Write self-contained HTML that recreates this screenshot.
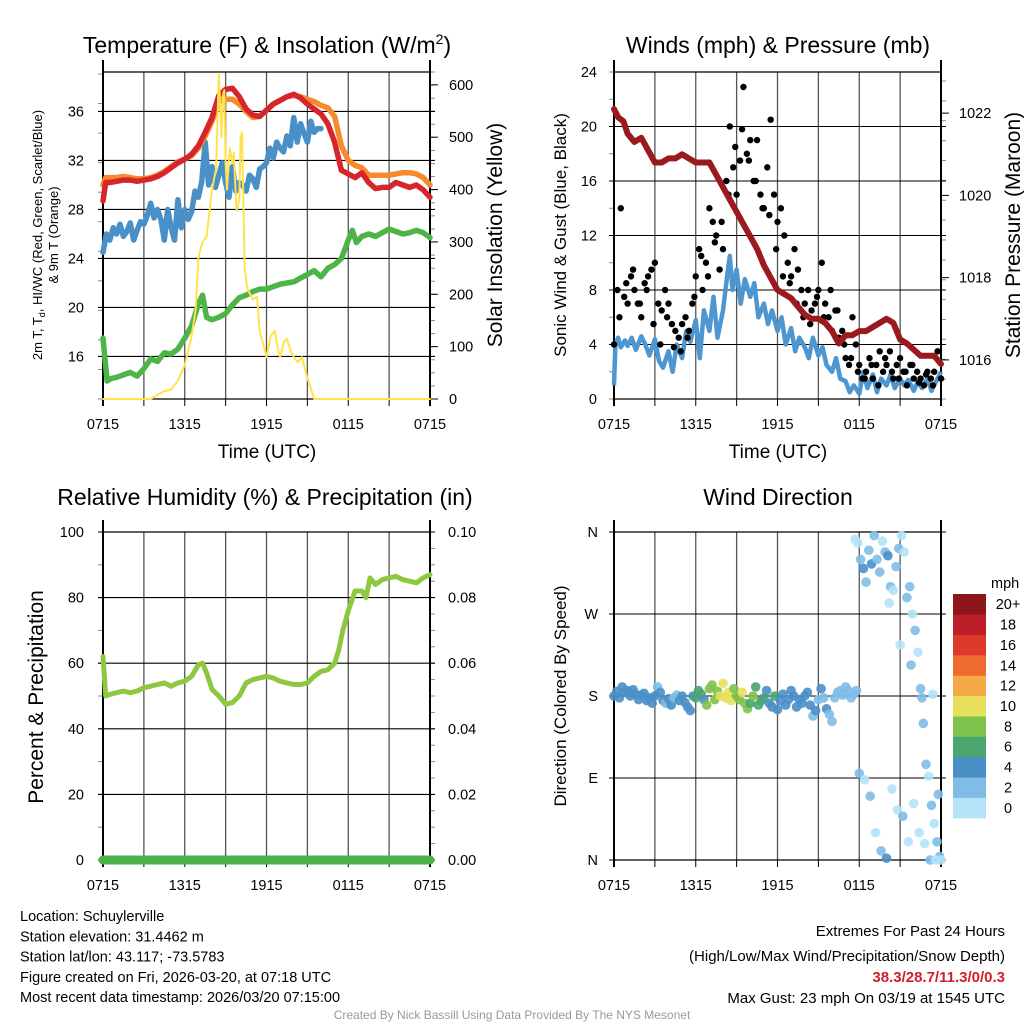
<!DOCTYPE html>
<html><head><meta charset="utf-8">
<style>
html,body{margin:0;padding:0;background:#fff;}
svg{display:block;font-family:"Liberation Sans",Arial,sans-serif;}
</style></head>
<body>
<svg id="fig" width="1024" height="1024" viewBox="0 0 1024 1024" xmlns="http://www.w3.org/2000/svg">
<rect width="1024" height="1024" fill="#fff"/>
</svg>
<script>
// ---------- DATA ----------
const timeTicks = ["0715","1315","1915","0115","0715"];
const tempT = [0,0.2,0.5,1,1.5,2,2.5,3,3.5,4,4.5,5,5.5,6,6.5,7,7.5,8,8.5,9,9.5,10,10.5,11,11.5,12,12.5,13,13.5,14,14.5,15,15.5,16,16.5,17,17.5,18,18.5,19,19.5,20,20.5,21,21.5,22,22.5,23,23.5,24];
const temp2m = [28.7,30.2,30.2,30.3,30.4,30.4,30.3,30.4,30.5,30.7,31,31.4,31.8,32.1,32.5,33.2,34.3,35.5,37.3,37.8,37.9,37.2,36.2,35.7,35.6,36.1,36.6,36.9,37.2,37.4,37.1,36.6,36.2,35.8,35,33.5,31.2,30.9,30.6,31,30.2,29.7,29.8,29.8,30.2,30,29.8,30,29.6,29];
const temp9m = [30,30.6,30.6,30.6,30.7,30.6,30.5,30.5,30.6,30.8,31.1,31.5,31.9,32.1,32.4,33,34,35.2,36.8,37,37,36.6,36,35.5,35.6,36.1,36.6,36.9,37.2,37.3,37.2,37,36.8,36.5,36.3,35.6,33.2,32,31.6,31.4,30.8,30.8,30.8,30.8,30.9,31,31,30.9,30.6,30];
const chillT = [0,0.25,0.5,0.75,1,1.25,1.5,1.75,2,2.25,2.5,2.75,3,3.25,3.5,3.75,4,4.25,4.5,4.75,5,5.25,5.5,5.75,6,6.25,6.5,6.75,7,7.25,7.5,7.75,8,8.25,8.5,8.75,9,9.25,9.5,9.75,10,10.25,10.5,10.75,11,11.25,11.5,11.75,12,12.25,12.5,12.75,13,13.25,13.5,13.75,14,14.25,14.5,14.75,15,15.25,15.5,15.75,16];
const chill = [24.5,26,25.5,26.5,26,26.8,25.8,26.2,26.9,25.5,26.3,27,26.8,27.5,28.5,27.3,28,27.2,25.5,28,26.5,25.5,28.8,26.5,28,27.2,27.8,29.5,29,30.3,33.5,30,31.5,29.8,30.8,31.8,30.2,29,31.5,29.5,30.2,30,29.5,30.8,30.5,29.8,31.3,31.5,31.8,33,32.2,33.5,33,32.7,34,33.2,35.5,33.5,35,34.2,33.5,35.2,34.3,34.6,34.6];
const dewT = [0,0.3,0.6,1,1.5,2,2.5,3,3.5,4,4.5,5,5.5,6,6.5,7,7.3,7.6,8,8.5,9,9.5,10,10.5,11,11.5,12,12.5,13,13.5,14,14.5,15,15.5,16,16.5,17,17.5,18,18.3,18.6,19,19.5,20,20.5,21,21.5,22,22.5,23,23.5,24];
const dew = [17.5,14,14.2,14.3,14.5,14.7,14.4,15,15.8,15.6,16.3,16.2,16.6,17.5,18.5,20.3,21,19.2,19,19.2,19.5,20.2,20.8,21,21.3,21.5,21.5,21.7,21.9,22,22.1,22.4,22.7,23,22.5,23.2,23.5,24,25.5,26.3,25.3,25.8,26,25.8,26.1,26.4,26.2,26,26.1,26.3,26.1,25.7];
const solarT = [0,3.5,4,4.5,5,5.5,6,6.5,6.8,7,7.3,7.6,8,8.3,8.5,8.6,8.7,8.8,8.9,9,9.1,9.3,9.5,9.6,9.8,10,10.1,10.2,10.4,10.6,11,11.3,11.5,12,12.3,12.6,12.8,13,13.3,13.5,13.8,14,14.3,14.6,15,15.5,24];
const solar = [0,0,8,15,18,35,65,120,170,270,300,310,400,440,620,560,500,580,590,450,400,480,450,470,360,380,500,510,250,210,190,195,130,80,120,130,100,80,110,115,90,80,70,80,40,0,0];
const windT = [0,0.1,0.3,0.5,0.8,1,1.3,1.6,2,2.3,2.6,3,3.3,3.6,4,4.3,4.6,5,5.3,5.6,6,6.3,6.6,7,7.3,7.6,8,8.3,8.5,8.7,9,9.3,9.6,10,10.3,10.6,11,11.3,11.6,12,12.3,12.6,13,13.3,13.6,14,14.3,14.6,15,15.3,15.6,16,16.3,16.6,17,17.3,17.6,18,18.3,18.6,19,19.3,19.6,20,20.3,20.6,21,21.3,21.6,22,22.3,22.6,23,23.3,23.6,24];
const wind = [1,4,4.5,3.8,4.3,3.9,4.5,3.6,4.6,4,3.2,4.4,2.8,2.3,3.5,2,4,3,5,4.2,5.8,3,6.5,5,7.5,4.5,6.5,9,10.5,8,9.5,7,8.8,7.5,8.5,6,7,5.5,6.5,5,6,4,5.2,3.5,4.5,3.8,3,4.5,3.2,3.8,2.5,2,3,1.5,1.3,0.5,1,0.4,2,0.8,1.8,0.5,1.5,1,1.8,0.8,1.5,1,1.4,0.6,1.3,0.8,1.5,0.6,1.2,2];
const gustT = [0,0.25,0.5,0.75,1,1.25,1.5,1.75,2,2.25,2.5,2.75,3,3.25,3.5,3.75,4,4.25,4.5,4.75,5,5.25,5.5,5.75,6,6.25,6.5,6.75,7,7.25,7.5,7.75,8,8.25,8.5,8.75,9,9.25,9.5,9.75,10,10.25,10.5,10.75,11,11.25,11.5,11.75,12,12.25,12.5,12.75,13,13.25,13.5,13.75,14,14.25,14.5,14.75,15,15.25,15.5,15.75,16,16.25,16.5,16.75,17,17.25,17.5,17.75,18,18.25,18.5,18.75,19,19.25,19.5,19.75,20,20.25,20.5,20.75,21,21.25,21.5,21.75,22,22.25,22.5,22.75,23,23.25,23.5,23.75,24];
const gust = [4,8,14,7.5,7,9,8,7,6,8.5,9,9.5,10,7,6.5,8,7,5.5,5,4.5,5.5,6,5,7,9,11,8,10,14,13,12,9.5,11,16,20,17,15,17.5,22.9,18,19,16,19,15,14,17,20.5,15,13,14,12,10,9,11,9.5,8,7,8,6.5,7,8,10,7,6,5,6.5,4.5,5,3,2.5,6,4,2.5,1.5,2,3,1.5,2.5,3.5,2,2.5,3.5,1.5,2.5,3,2,1,2.5,1.5,2,1.5,1,2,1.5,2,3.5,1.5];
const gust2T = [0.4,0.9,1.4,1.9,2.4,2.9,3.4,3.9,4.4,4.9,5.4,5.9,6.4,6.9,7.4,7.9,8.4,8.9,9.4,9.9,10.4,10.9,11.4,11.9,12.4,12.9,13.4,13.9,14.4,14.9,15.4,15.9,16.4,16.9,17.4,17.9,18.4,18.9,19.4,19.9,20.4,20.9,21.4,21.9,22.4,22.9,23.4];
const gust2 = [6,8.5,9.5,7,8,5.5,4,6,3.8,3.5,4.5,7.5,10.5,9,11.5,13,15,18.5,19.8,17.5,16,14,13.5,11,9,8.5,7,6,5.5,7.5,6,8,6.5,4,3,2,1.5,2.5,1,3,2,1.5,2,2.5,1.2,1.8,1];
const presT = [0,0.3,0.7,1,1.5,2,2.5,3,3.5,4,4.5,5,5.5,6,6.5,7,7.5,8,8.5,9,9.5,10,10.5,11,11.5,12,12.5,13,13.5,14,14.5,15,15.5,16,16.5,17,17.5,18,18.5,19,19.5,20,20.5,21,21.5,22,22.5,23,23.5,24];
const pres = [1022.1,1021.9,1021.8,1021.5,1021.3,1021.4,1021.1,1020.8,1020.8,1020.9,1020.9,1021,1020.9,1020.8,1020.8,1020.8,1020.5,1020.2,1019.9,1019.6,1019.3,1019,1018.7,1018.3,1018,1017.7,1017.6,1017.5,1017.3,1017.1,1017,1017,1016.9,1016.7,1016.4,1016.6,1016.6,1016.7,1016.7,1016.8,1016.9,1017,1016.9,1016.5,1016.4,1016.25,1016.1,1016.1,1016.1,1015.9];
const rhT = [0,0.2,0.5,1,1.5,2,2.5,3,3.5,4,4.5,5,5.5,6,6.5,7,7.3,7.6,8,8.5,9,9.5,10,10.5,11,11.5,12,12.5,13,13.5,14,14.5,15,15.5,16,16.5,17,17.3,17.6,18,18.5,19,19.3,19.6,20,20.5,21,21.5,22,22.5,23,23.5,24];
const rh = [62,50,50.5,51,51.5,51,51.5,52.5,53,53.5,54,53,54,54.5,56,59.5,60,57,52,50,47.5,48,50,54,55,55.5,56,55.5,54.5,54,53.5,53.5,54,56,57.5,58,60,64,70,76,82,82,80,86,84,85.5,86,86.5,85.5,85,84.5,86,87];
const precipT = [0,24];
const precip = [0,0];
const dirT = [0,0.2,0.4,0.6,0.8,1,1.2,1.4,1.6,1.8,2,2.2,2.4,2.6,2.8,3,3.2,3.4,3.6,3.8,4,4.2,4.4,4.6,4.8,5,5.2,5.4,5.6,5.8,6,6.2,6.4,6.6,6.8,7,7.2,7.4,7.6,7.8,8,8.2,8.4,8.6,8.8,9,9.2,9.4,9.6,9.8,10,10.2,10.4,10.6,10.8,11,11.2,11.4,11.6,11.8,12,12.2,12.4,12.6,12.8,13,13.2,13.4,13.6,13.8,14,14.2,14.4,14.6,14.8,15,15.2,15.4,15.6,15.8,16,16.2,16.4,16.6,16.8,17,17.2,17.4,17.6,17.8,17.7,17.9,18.1,18.3,18.5,18.7,18.9,19.1,19.3,19.5,19.7,19.9,20.1,20.3,20.5,20.7,20.9,21.1,21.3,21.5,21.7,21.9,22.1,22.3,22.5,22.7,22.9,23.1,23.3,23.5,23.7,23.9,18.0,18.4,18.8,19.2,19.6,20.0,20.4,20.8,21.2,21.6,22.0,22.4,22.8,23.2,23.6,24.0,20.2,21.0,21.8,22.6,23.4,23.8];
const dirD = [180,185,178,190,184,186,180,187,182,176,181,183,175,178,172,180,190,184,175,172,177,170,178,181,175,180,173,168,164,180,178,186,182,176,170,188,192,176,185,180,194,178,184,175,188,180,176,184,172,166,172,180,190,170,175,178,186,172,168,180,165,175,182,170,176,186,180,168,176,172,180,184,170,158,164,176,188,178,166,160,152,178,184,186,181,190,186,178,182,186,352,348,330,320,305,340,325,356,330,316,350,338,334,300,296,322,342,356,338,288,300,270,252,228,188,150,105,92,60,40,20,4,95,88,70,30,10,2,78,55,48,20,62,30,18,0,0,0,282,236,214,178,182,72];
const dirS = [3.5,3.8,4.2,3.6,3.9,4.1,3.7,4.4,3.5,3.9,3.8,4.2,3.6,3.3,3.1,3.7,2.8,3.6,3.2,2.9,3.8,3.5,2.6,2.4,3.7,3.3,4.2,3.8,4.3,4.6,5.5,6.5,5.8,4.5,7,7.5,8.2,8.8,8.5,9.5,10.2,9.8,10.6,9.4,8.6,8.2,7.8,9.5,8.4,7.5,6.8,7.9,6.3,5.7,6.2,5.5,4.6,4.3,4.8,5.2,4.1,3.9,4.3,3.6,4.2,3.8,4.4,3.5,3.9,3.3,4.6,3.7,3.2,2.5,3.5,2.9,3.6,2.4,3.1,2.2,2.8,2.6,2.3,1.8,1.5,2.4,1.2,1.5,1.3,1.6,0.8,0.9,1.2,3.5,1.5,1.1,3.8,1.3,1.0,1.5,0.7,1.2,4.2,1.4,0.9,1.5,1.2,0.6,0.8,1.1,1.3,0.5,1.3,0.9,1.4,1.2,1.0,0.8,1.1,0.9,1.0,1.5,1.1,0.6,1.1,0.5,1.3,4.0,0.4,0.9,1.2,0.6,0.7,0.4,0.8,1.3,0.5,0.6,0.4,0.3,1.1,1.3,0.9,1.1,0.8,3.5];
const cbLabels = ["0","2","4","6","8","10","12","14","16","18","20+"];
const cbColors = ["#b4e3f8","#80bde6","#4a8fc6","#49a66f","#7dc24b","#e7e05b","#f6aa47","#ee6b2d","#dd3a2b","#bd1e27","#8e161a"];

// ---------- HELPERS ----------
const NS = "http://www.w3.org/2000/svg";
const svg = document.getElementById('fig');
function el(tag, attrs, parent, text){
  const e = document.createElementNS(NS, tag);
  for (const k in attrs) e.setAttribute(k, attrs[k]);
  if (text !== undefined) e.textContent = text;
  (parent || svg).appendChild(e);
  return e;
}
function makeX(x0, x1){ return t => x0 + (t/24)*(x1-x0); }
function makeY(y0, y1, v0, v1){ return v => y1 - (v-v0)/(v1-v0)*(y1-y0); }
function pathD(ts, vs, X, Y){ return ts.map((t,i)=>(i?'L':'M')+X(t).toFixed(1)+' '+Y(vs[i]).toFixed(1)).join(' '); }

function frame(g, x0, x1, y0, y1, hLines, Yl){
  for (let i=0;i<=8;i++){
    const x = x0 + i*(x1-x0)/8;
    const vl = el('line',{x1:x,y1:y0,x2:x,y2:y1,stroke:'#555','stroke-width':1.3},g);
    
    
    const tk = el('line',{x1:x,y1:y1,x2:x,y2:y1+7,stroke:'#000','stroke-width':1},g);
    
    
  }
  hLines.forEach(v=>{
    const y = Yl(v);
    const hl = el('line',{x1:x0-5,y1:y,x2:x1+5,y2:y,stroke:'#000','stroke-width':1.1},g);
    
    
  });
  el('line',{x1:x0,y1:y0,x2:x1,y2:y0,stroke:'#000','stroke-width':1.3},g);
  el('line',{x1:x0,y1:y1,x2:x1,y2:y1,stroke:'#000','stroke-width':1.3},g);
  el('line',{x1:x0,y1:y0-12,x2:x0,y2:y1+7,stroke:'#000','stroke-width':2},g);
  el('line',{x1:x1,y1:y0-12,x2:x1,y2:y1+7,stroke:'#000','stroke-width':2},g);
  timeTicks.forEach((lab,i)=>{
    const x = x0 + i*(x1-x0)/4;
    const t = el('text',{x:x,y:y1+30,'font-size':14.5,'text-anchor':'middle',fill:'#000'},g,lab);
    
    
  });
}
function minorTicks(g, x, y0, y1, n, dir){
  for (let i=0;i<=n;i++){
    const y = y0 + i*(y1-y0)/n;
    el('line',{x1:x,y1:y,x2:x+dir*5,y2:y,stroke:'#888','stroke-width':1},g);
  }
}
function label(g, x, y, txt, size, anchor, name, extra){
  const t = el('text',Object.assign({x:x,y:y,'font-size':size,'text-anchor':anchor||'start',fill:'#000'},extra||{}),g,txt);
  
  
  return t;
}

// ---------- PANEL 1: Temperature ----------
(function(){
  const g = el('g',{});
  
  
  const x0=103,x1=430,y0=72,y1=399;
  const X = makeX(x0,x1);
  const Y = makeY(y0,y1,12.53,39.22);
  const YS = makeY(y0,y1,0,624.5);
  const tempTicks=[16,20,24,28,32,36];
  minorTicks(g,x0,y0+2,y1,11,-1);
  minorTicks(g,x1,y0,y1,25,1);
  frame(g,x0,x1,y0,y1,tempTicks,Y);
  tempTicks.forEach(v=>label(g,84,Y(v)+5,String(v),14.5,'end','y-tick-label'));
  [0,100,200,300,400,500,600].forEach(v=>{
    el('line',{x1:x1,y1:YS(v),x2:x1+8,y2:YS(v),stroke:'#000','stroke-width':1},g);
    label(g,449,YS(v)+5,String(v),14.5,'start','right-y-tick-label');
  });
  const s = [[dewT,dew,'#4db548','dew-point-line',Y,5.5],[chillT,chill,'#4a90c8','wind-chill-line',Y,5.5],[tempT,temp9m,'#f58a2f','9m-temperature-line',Y,5.5],[tempT,temp2m,'#d6262b','2m-temperature-line',Y,5.5],[solarT,solar,'#ffe24d','solar-insolation-line',YS,2]];
  s.forEach(a=>{
    const p = el('path',{d:pathD(a[0],a[1],X,a[4]),fill:'none',stroke:a[2],'stroke-width':a[5],'stroke-linejoin':'round','stroke-linecap':'round'},g);
    
    
  });
  const t1 = el('text',{x:267,y:53,'font-size':23,'text-anchor':'middle'},g);
  
  
  t1.innerHTML = 'Temperature (F) &amp; Insolation (W/m<tspan font-size="14" dy="-9">2</tspan><tspan dy="9">)</tspan>';
  const yt = el('text',{transform:'translate(42,235) rotate(-90)','font-size':13,'text-anchor':'middle'},g);
  
  
  yt.innerHTML = '2m T, T<tspan font-size="9" dy="3">d</tspan><tspan dy="-3">, HI/WC (Red, Green, Scarlet/Blue)</tspan>';
  label(g,0,0,'& 9m T (Orange)',13,'middle','temperature-y-axis-title-line2',{transform:'translate(58,235) rotate(-90)'});
  label(g,0,0,'Solar Insolation (Yellow)',21,'middle','solar-y-axis-title',{transform:'translate(502,235) rotate(-90)'});
  label(g,267,458,'Time (UTC)',19,'middle','x-axis-title');
})();

// ---------- PANEL 2: Winds ----------
(function(){
  const g = el('g',{});
  
  
  const x0=614,x1=941,y0=72,y1=399;
  const X = makeX(x0,x1);
  const Y = makeY(y0,y1,0,24);
  const YP = makeY(y0,y1,1015.05,1023.0);
  const ticks=[0,4,8,12,16,20,24];
  minorTicks(g,x0,y0,y1,12,-1);
  minorTicks(g,x1,y0+9,y1,16,1);
  frame(g,x0,x1,y0,y1,[4,8,12,16,20],Y);
  ticks.forEach(v=>label(g,597,Y(v)+5,String(v),14.5,'end','y-tick-label'));
  [1016,1018,1020,1022].forEach(v=>{
    el('line',{x1:x1,y1:YP(v),x2:x1+8,y2:YP(v),stroke:'#000','stroke-width':1},g);
    label(g,959,YP(v)+5,String(v),14.5,'start','right-y-tick-label');
  });
  const w = el('path',{d:pathD(windT,wind,X,Y),fill:'none',stroke:'#4e96d0','stroke-width':4.5,'stroke-linejoin':'round'},g);
  
  
  [[gustT,gust],[gust2T,gust2]].forEach(a=>{
    a[0].forEach((t,i)=>{
      const c = el('circle',{cx:X(t),cy:Y(a[1][i]),r:3.2,fill:'#000'},g);
      
      
    });
  });
  const p = el('path',{d:pathD(presT,pres,X,YP),fill:'none',stroke:'#9a1a1d','stroke-width':6,'stroke-linejoin':'round','stroke-linecap':'round'},g);
  
  
  label(g,778,53,'Winds (mph) & Pressure (mb)',23,'middle','winds-title');
  label(g,0,0,'Sonic Wind & Gust (Blue, Black)',17,'middle','wind-y-axis-title',{transform:'translate(566,235) rotate(-90)'});
  label(g,0,0,'Station Pressure (Maroon)',21,'middle','pressure-y-axis-title',{transform:'translate(1020,235) rotate(-90)'});
  label(g,778,458,'Time (UTC)',19,'middle','x-axis-title');
})();

// ---------- PANEL 3: RH ----------
(function(){
  const g = el('g',{});
  
  
  const x0=103,x1=430,y0=532,y1=860;
  const X = makeX(x0,x1);
  const Y = makeY(y0,y1,0,100);
  const YR = makeY(y0,y1,0,0.10);
  minorTicks(g,x0,y0,y1,10,-1);
  minorTicks(g,x1,y0,y1,20,1);
  frame(g,x0,x1,y0,y1,[0,20,40,60,80,100],Y);
  [0,20,40,60,80,100].forEach(v=>label(g,84,Y(v)+5,String(v),14.5,'end','y-tick-label'));
  ['0.00','0.02','0.04','0.06','0.08','0.10'].forEach(v=>label(g,448,YR(+v)+5,v,14.5,'start','right-y-tick-label'));
  const r = el('path',{d:pathD(rhT,rh,X,Y),fill:'none',stroke:'#8dc840','stroke-width':5,'stroke-linejoin':'round','stroke-linecap':'round'},g);
  
  
  const pr = el('path',{d:pathD(precipT,precip,X,YR),fill:'none',stroke:'#48b14a','stroke-width':9,'stroke-linecap':'round'},g);
  
  
  label(g,265,505,'Relative Humidity (%) & Precipitation (in)',23,'middle','humidity-title');
  label(g,0,0,'Percent & Precipitation',21,'middle','humidity-y-axis-title',{transform:'translate(43,697) rotate(-90)'});
})();

// ---------- PANEL 4: Wind Direction ----------
(function(){
  const g = el('g',{});
  
  
  const x0=614,x1=941,y0=532,y1=860;
  const X = makeX(x0,x1);
  const Y = makeY(y0,y1,0,360);
  frame(g,x0,x1,y0,y1,[0,90,180,270,360],Y);
  ['N','E','S','W','N'].forEach((lab,i)=>label(g,598,Y(i*90)+5,lab,14.5,'end','direction-tick-label'));
  function col(s){ let k = Math.floor((s+1)/2); if (k<0) k=0; if (k>10) k=10; return cbColors[k]; }
  dirT.forEach((t,i)=>{
    const c = el('circle',{cx:X(t),cy:Y(dirD[i]),r:4.8,fill:col(dirS[i]),'fill-opacity':0.9},g);
    
    
  });
  label(g,778,505,'Wind Direction',23,'middle','wind-direction-title');
  label(g,0,0,'Direction (Colored By Speed)',17,'middle','direction-y-axis-title',{transform:'translate(566,696) rotate(-90)'});
  const cb = el('g',{},g);
  
  
  const h = 224/11;
  cbColors.forEach((c,i)=>{
    const y = 818 - (i+1)*h;
    const r = el('rect',{x:953,y:y,width:33,height:h+0.3,fill:c},cb);
    
    
    label(cb,1008,y+h/2+5,cbLabels[i],14.5,'middle','colorbar-label');
  });
  label(cb,991,588,'mph',14.5,'start','colorbar-title');
})();

// ---------- FOOTER TEXT ----------
(function(){
  const g = el('g',{});
  
  
  const lines = ['Location: Schuylerville','Station elevation: 31.4462 m','Station lat/lon: 43.117; -73.5783','Figure created on Fri, 2026-03-20, at 07:18 UTC','Most recent data timestamp: 2026/03/20 07:15:00'];
  lines.forEach((s,i)=>label(g,20,921+i*20.3,s,14.5,'start','station-info-line'));
  const h = el('g',{});
  
  
  label(h,1005,936,'Extremes For Past 24 Hours',15,'end','extremes-heading');
  label(h,1005,961,'(High/Low/Max Wind/Precipitation/Snow Depth)',15,'end','extremes-legend');
  label(h,1005,982,'38.3/28.7/11.3/0/0.3',15,'end','extremes-values',{fill:'#d0202a','font-weight':'bold'});
  label(h,1005,1003,'Max Gust: 23 mph On 03/19 at 1545 UTC',15,'end','max-gust-text');
  label(svg,512,1019,'Created By Nick Bassill Using Data Provided By The NYS Mesonet',12,'middle','credit-text',{fill:'#999'});
})();
</script>
</body></html>
